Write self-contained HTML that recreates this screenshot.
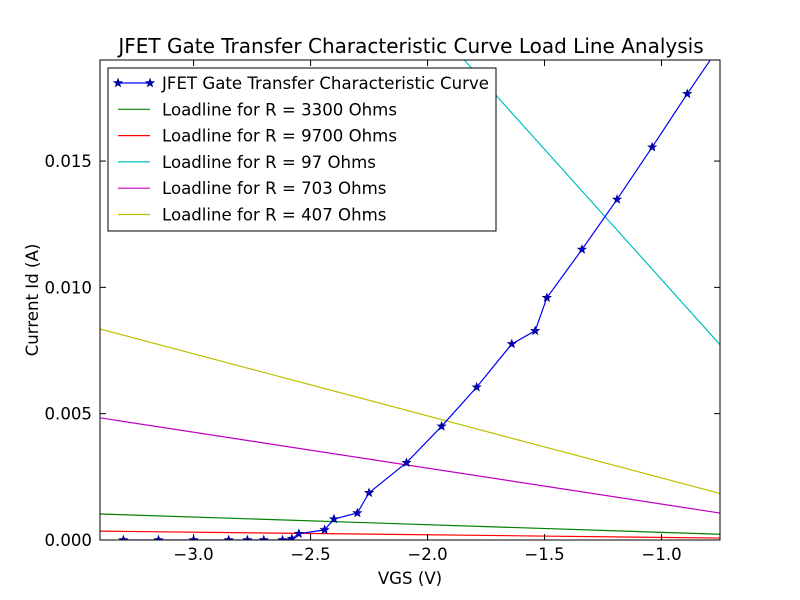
<!DOCTYPE html>
<html><head><meta charset="utf-8"><style>body{margin:0;background:#fff}svg{display:block;font-family:"DejaVu Sans","Liberation Sans",sans-serif}</style></head>
<body>
<svg id="chart" width="800" height="600" xmlns="http://www.w3.org/2000/svg">
<rect width="800" height="600" fill="#fff"/>
<defs><clipPath id="clip"><rect x="100" y="60" width="620" height="480"/></clipPath></defs>
<g id="plot" clip-path="url(#clip)"></g>
<rect x="100" y="60" width="620" height="480" fill="none" stroke="#000" stroke-width="1"/>
<g id="axes"></g>
<text x="411" y="53" text-anchor="middle" font-size="20">JFET Gate Transfer Characteristic Curve Load Line Analysis</text>
<text x="410" y="584" text-anchor="middle" font-size="16.6">VGS (V)</text>
<text transform="translate(38,300) rotate(-90)" text-anchor="middle" font-size="16.6">Current Id (A)</text>
<g id="legend"></g>
</svg>
<script>
const vgs = [-3.30,-3.15,-3.0,-2.85,-2.77,-2.70,-2.62,-2.58,-2.55,-2.44,-2.40,-2.30,-2.25,-2.09,-1.94,-1.79,-1.64,-1.54,-1.49,-1.34,-1.19,-1.04,-0.89,-0.74];
const idVals = [0,0,0,0,0,0,0,0.00005,0.00025,0.0004,0.00083,0.00107,0.00187,0.00306,0.0045,0.00605,0.00776,0.00828,0.00959,0.0115,0.01348,0.01555,0.01766,0.0197];
const resistances = [3300,9700,97,703,407];
const lineColors = ["#008000","#ff0000","#00bfbf","#bf00bf","#bfbf00"];
const xTicks = [-3.0,-2.5,-2.0,-1.5,-1.0];
const xTickLabels = ["\u22123.0","\u22122.5","\u22122.0","\u22121.5","\u22121.0"];
const yTicks = [0,0.005,0.010,0.015];
const yTickLabels = ["0.000","0.005","0.010","0.015"];
const X0=-3.4,X1=-0.75,Y0=0,Y1=0.019;
const xs=v=>100+(v-X0)/(X1-X0)*620;
const ys=v=>540-(v-Y0)/(Y1-Y0)*480;
const NS="http://www.w3.org/2000/svg";
function mk(t,a,p){const e=document.createElementNS(NS,t);for(const k in a)e.setAttribute(k,a[k]);p.appendChild(e);return e;}
const plot=document.getElementById('plot'),axes=document.getElementById('axes'),leg=document.getElementById('legend');
resistances.forEach((r,i)=>{
  const l=mk('line',{x1:xs(X0),y1:ys(-X0/r),x2:xs(X1),y2:ys(-X1/r),stroke:lineColors[i],'stroke-width':1.2},plot);
  
  
});
const pts=vgs.map((v,i)=>xs(v)+','+ys(idVals[i])).join(' ');
const curve=mk('polyline',{points:pts,fill:'none',stroke:'#0000ff','stroke-width':1.2},plot);


function star(cx,cy,r,p){let s='';for(let k=0;k<10;k++){const a=-Math.PI/2+k*Math.PI/5,rr=k%2?r*0.42:r;s+=(cx+rr*Math.cos(a))+','+(cy+rr*Math.sin(a))+' ';}return mk('polygon',{points:s,fill:'#0000bf',stroke:'#000080','stroke-width':0.6},p);}
vgs.forEach((v,i)=>{const s=star(xs(v),ys(idVals[i]),4.5,plot);
  
  });
xTicks.forEach((v,i)=>{const x=xs(v);
  mk('line',{x1:x,y1:540,x2:x,y2:534,stroke:'#000'},axes);mk('line',{x1:x,y1:60,x2:x,y2:66,stroke:'#000'},axes);
  const t=mk('text',{x:x,y:560,'text-anchor':'middle','font-size':16.6},axes);t.textContent=xTickLabels[i];
  
  });
yTicks.forEach((v,i)=>{const y=ys(v);
  mk('line',{x1:100,y1:y,x2:106,y2:y,stroke:'#000'},axes);mk('line',{x1:720,y1:y,x2:714,y2:y,stroke:'#000'},axes);
  const t=mk('text',{x:92,y:y+6,'text-anchor':'end','font-size':16.6},axes);t.textContent=yTickLabels[i];
  
  });
const lb=mk('rect',{x:108,y:68,width:388,height:163,fill:'#fff',stroke:'#000'},leg);


const labels=["JFET Gate Transfer Characteristic Curve"].concat(resistances.map(r=>"Loadline for R = "+r+" Ohms"));
labels.forEach((s,i)=>{const y=83+i*26.3;
  const g=mk('g',{},leg);
  
  
  mk('line',{x1:118,y1:y,x2:150,y2:y,stroke:i?lineColors[i-1]:'#0000ff','stroke-width':1.2},g);
  if(!i){star(118,y,4.5,g);star(150,y,4.5,g);}
  const t=mk('text',{x:162,y:y+6,'font-size':16.6},g);t.textContent=s;});
</script>
</body></html>
